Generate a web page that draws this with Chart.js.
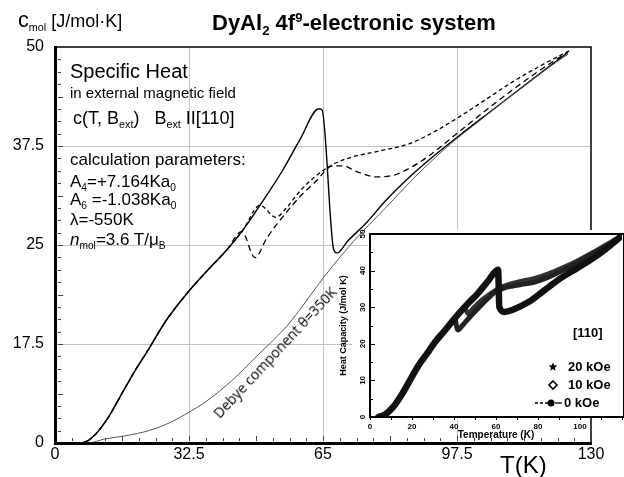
<!DOCTYPE html>
<html>
<head>
<meta charset="utf-8">
<title>DyAl2 specific heat</title>
<script src="https://cdn.jsdelivr.net/npm/chart.js@4.4.1/dist/chart.umd.min.js"></script>
<style>
  body { margin: 0; background: #fff; }
  #wrap { position: relative; width: 624px; height: 477px; overflow: hidden;
          font-family: "Liberation Sans", Arial, sans-serif; color: #000; }
  canvas { position: absolute; }
  #mainChart { left: 0; top: 0; }
  #insetChart { left: 336px; top: 222px; }
  .lbl { position: absolute; white-space: nowrap; line-height: 1; }
  .lbl sub { font-size: 0.6em; vertical-align: -0.35em; line-height: 0; }
  .lbl sup { font-size: 0.6em; vertical-align: 0.6em; line-height: 0; }
</style>
</head>
<body>
<div id="wrap">
  <canvas id="mainChart" width="624" height="477"></canvas>
  <canvas id="insetChart" width="288" height="220"></canvas>

  <div class="lbl" style="left:18px;top:9px;font-size:18px"><span style="font-size:1.2em">c</span><sub>mol</sub> [J/mol·K]</div>
  <div class="lbl" style="left:212px;top:12px;font-size:22px;font-weight:bold">DyAl<sub>2</sub> 4f<sup>9</sup>-electronic system</div>

  <div class="lbl" style="left:70px;top:61px;font-size:20px">Specific Heat</div>
  <div class="lbl" style="left:70px;top:85px;font-size:15px">in external magnetic field</div>
  <div class="lbl" style="left:73px;top:109px;font-size:18px">c(T, B<sub>ext</sub>)&nbsp;&nbsp; B<sub>ext</sub> II[110]</div>
  <div class="lbl" style="left:70px;top:151px;font-size:17px">calculation parameters:</div>
  <div class="lbl" style="left:70px;top:173px;font-size:17px">A<sub>4</sub>=+7.164Ka<sub>0</sub></div>
  <div class="lbl" style="left:70px;top:191px;font-size:17px">A<sub>6</sub> =-1.038Ka<sub>0</sub></div>
  <div class="lbl" style="left:70px;top:211px;font-size:17px">λ=-550K</div>
  <div class="lbl" style="left:70px;top:231px;font-size:17px"><i>n</i><sub>mol</sub>=3.6 T/μ<sub>B</sub></div>

  <div class="lbl" style="left:211px;top:411px;font-size:14px;font-family:'Open Sans',sans-serif;transform-origin:0 0;transform:rotate(-47deg)">Debye component θ=350K</div>

  <div class="lbl" style="left:500px;top:453px;font-size:24px">T(K)</div>
</div>

<script>
"use strict";

// ---- main chart: calculated c(T) in J/mol K, T in K ----
// B_ext = 0 (solid line, jump at ~64 K)
const tZero = [0, 6, 8, 10, 13, 16.5, 19.5, 22.3, 27, 32.5, 37, 41.7, 45.6, 49.7, 55.3, 59.4, 64, 64.8, 67.6, 68.4, 71, 75.7, 80, 86, 92, 98, 105, 111, 118, 124.4];
const cZero = [0, 0, 0.3, 1.2, 3.3, 6.5, 9.2, 11.5, 15.5, 19.2, 21.8, 24.4, 26.9, 30, 34.5, 38.3, 42.2, 42.0, 24.4, 24.0, 25.5, 27.9, 30.5, 33.6, 36.3, 38.8, 41.6, 44.0, 46.8, 49.3];

// field curve with dip near 48 K (long dashes)
const tFieldA = [0, 6, 8, 10, 13, 16.5, 19.5, 22.3, 27, 32.5, 37, 41.7, 45.3, 48.5, 51.4, 55, 59.4, 63, 67.5, 70, 73, 78, 82, 86, 90, 94, 98, 104, 111, 118, 124.4];
const cFieldA = [0, 0, 0.3, 1.2, 3.3, 6.5, 9.2, 11.5, 15.5, 19.2, 21.8, 24.4, 26.7, 23.4, 25.9, 28.4, 31.1, 32.9, 35.0, 35.0, 34.3, 33.6, 33.8, 34.7, 36.0, 37.6, 39.3, 41.8, 44.6, 47.2, 49.4];

// field curve with dip near 54 K (short dashes)
const tFieldB = [0, 6, 8, 10, 13, 16.5, 19.5, 22.3, 27, 32.5, 37, 41.7, 45.6, 49.7, 53.6, 56, 59.4, 63, 67.5, 72, 78, 86, 92, 97.5, 104, 111, 118, 125];
const cFieldB = [0, 0, 0.3, 1.2, 3.3, 6.5, 9.2, 11.5, 15.5, 19.2, 21.8, 24.4, 26.9, 30.0, 28.5, 29.6, 31.8, 33.6, 35.2, 36.1, 36.8, 37.8, 39.3, 41.0, 43.2, 45.6, 47.7, 49.6];

// Debye component, theta = 350 K
const tDebye = [0, 8, 12, 17, 23, 28, 32.5, 36, 39.3, 44, 48, 52, 56.3, 60.2, 65, 72.3, 80, 88.5, 96, 103, 110, 117, 124.4];
const cDebye = [0, 0, 0.5, 0.9, 1.6, 2.6, 3.9, 5.0, 6.3, 8.4, 10.5, 12.5, 14.8, 17.4, 20.8, 25.4, 29.6, 34.2, 37.8, 40.7, 43.6, 46.4, 49.1];

const xTickValues = [0, 32.5, 65, 97.5, 130];
const xTickText = ["0", "32.5", "65", "97.5", "130"];
const yTickValues = [0, 12.5, 25, 37.5, 50];
const yTickText = ["0", "17.5", "25", "37.5", "50"];

// ---- inset: measured heat capacity, B || [110] ----
const tMeas0 = [4, 7, 11, 15, 19, 23, 27.4, 31, 35, 39, 43, 47, 51.4, 56, 61, 61.6, 64, 68, 75.5, 83, 91, 99, 107, 114, 121];
const cMeas0 = [0, 0.6, 2.7, 6, 10, 14, 17.5, 20.5, 23.2, 26, 28.7, 31.2, 33.8, 37, 40.2, 30, 28.7, 29.3, 31.4, 34.6, 38, 40.8, 43.7, 46.7, 50];

const tMeas10 = [4, 7, 11, 15, 19, 23, 27.4, 31, 35, 39, 40.3, 41.8, 44, 48, 52, 56, 60, 64, 68, 72, 78, 84, 90, 96, 103, 110, 116, 121];
const cMeas10 = [0, 0.6, 2.7, 6, 10, 14, 17.5, 20.5, 23.2, 26, 26.8, 23.8, 25, 27.6, 30, 32.3, 34.3, 35.3, 35.8, 36.2, 36.8, 38, 39.6, 41.3, 43.6, 45.8, 47.8, 49.8];

const tMeas20 = [4, 7, 11, 15, 19, 23, 27.4, 31, 35, 39, 43, 45, 46.8, 49, 53, 57, 61, 65, 70, 76, 82, 88, 94, 100, 107, 114, 121];
const cMeas20 = [0, 0.6, 2.7, 6, 10, 14, 17.5, 20.5, 23.2, 26, 28.7, 29.8, 28.2, 29.6, 31.8, 33.5, 35, 36, 36.8, 37.5, 38.5, 39.8, 41.3, 43, 45.2, 47.5, 50];

const insetXLabels = [0, 20, 40, 60, 80, 100];
const insetYLabels = [0, 10, 20, 30, 40, 50];
const insetLegend = ["20 kOe", "10 kOe", "0 kOe"];

const FONT = "'Liberation Sans', Arial, sans-serif";

function pairs(xs, ys) {
  return xs.map((x, i) => ({ x: x, y: ys[i] }));
}

// frame + inward minor ticks for the main plot
const mainFrame = {
  id: "mainFrame",
  afterDraw(chart) {
    const { ctx, chartArea: a, scales: { x, y } } = chart;
    ctx.save();
    ctx.strokeStyle = "#000";
    ctx.lineWidth = 1.5;
    ctx.strokeRect(a.left, a.top, a.right - a.left, a.bottom - a.top);
    ctx.strokeStyle = "#444";
    ctx.lineWidth = 1;
    const xStep = (xTickValues[1] - xTickValues[0]) / 8;
    for (let i = 1; i < 32; i++) {
      const px = Math.round(x.getPixelForValue(i * xStep)) + 0.5;
      ctx.beginPath();
      ctx.moveTo(px, a.bottom - 2);
      ctx.lineTo(px, a.bottom - (i % 4 === 0 ? 7 : 5));
      ctx.stroke();
    }
    const yStep = (yTickValues[1] - yTickValues[0]) / 8;
    for (let i = 1; i < 32; i++) {
      const py = Math.round(y.getPixelForValue(i * yStep)) + 0.5;
      ctx.beginPath();
      ctx.moveTo(a.left + 3, py);
      ctx.lineTo(a.left + (i % 4 === 0 ? 8 : 6), py);
      ctx.stroke();
    }
    ctx.restore();
  }
};

new Chart(document.getElementById("mainChart"), {
  type: "line",
  data: {
    datasets: [
      { label: "Debye component", data: pairs(tDebye, cDebye), borderColor: "#555", borderWidth: 1 },
      { label: "B = 0", data: pairs(tZero, cZero), borderColor: "#000", borderWidth: 1.4 },
      { label: "field A", data: pairs(tFieldA, cFieldA), borderColor: "#000", borderWidth: 1.3, borderDash: [6, 4] },
      { label: "field B", data: pairs(tFieldB, cFieldB), borderColor: "#000", borderWidth: 1.3, borderDash: [4, 3] }
    ]
  },
  options: {
    responsive: false,
    animation: false,
    elements: {
      point: { radius: 0 },
      line: { cubicInterpolationMode: "monotone", fill: false }
    },
    layout: { padding: { top: 47, right: 33, left: 0, bottom: 0 } },
    plugins: { legend: { display: false }, tooltip: { enabled: false } },
    scales: {
      x: {
        type: "linear", min: 0, max: 130,
        afterFit: s => { s.height = 34; },
        afterBuildTicks: s => { s.ticks = xTickValues.map(v => ({ value: v })); },
        ticks: {
          callback: v => xTickText[xTickValues.indexOf(v)],
          font: { size: 16, family: FONT }, color: "#000",
          padding: 2, maxRotation: 0, autoSkip: false
        },
        grid: {
          color: c => (c.tick && c.tick.value > 0 && c.tick.value < 130) ? "#c4c4c4" : "rgba(0,0,0,0)",
          drawTicks: false, lineWidth: 1
        },
        border: { display: true, color: "#000", width: 3 }
      },
      y: {
        type: "linear", min: 0, max: 50,
        afterFit: s => { s.width = 55; },
        afterBuildTicks: s => { s.ticks = yTickValues.map(v => ({ value: v })); },
        ticks: {
          callback: v => yTickText[yTickValues.indexOf(v)],
          font: { size: 16, family: FONT }, color: "#000",
          padding: 11, autoSkip: false
        },
        grid: {
          color: c => (c.tick && c.tick.value > 0 && c.tick.value < 50) ? "#c4c4c4" : "rgba(0,0,0,0)",
          drawTicks: false, lineWidth: 1
        },
        border: { display: true, color: "#000", width: 3 }
      }
    }
  },
  plugins: [mainFrame]
});

// inset: white card, frame, inward y ticks and its own legend
function drawStar(ctx, cx, cy, r) {
  ctx.beginPath();
  for (let i = 0; i < 10; i++) {
    const rr = i % 2 === 0 ? r : r * 0.45;
    const ang = -Math.PI / 2 + i * Math.PI / 5;
    const px = cx + rr * Math.cos(ang), py = cy + rr * Math.sin(ang);
    if (i === 0) ctx.moveTo(px, py); else ctx.lineTo(px, py);
  }
  ctx.closePath();
  ctx.fill();
}

const insetDeco = {
  id: "insetDeco",
  beforeDraw(chart) {
    const { ctx, chartArea: a, width } = chart;
    ctx.save();
    ctx.fillStyle = "#fff";
    // plot card, and the label strip to its left (lower part only)
    ctx.fillRect(a.left - 2, a.top - 4, width - a.left + 2, a.bottom - a.top + 5);
    ctx.fillRect(16, a.top + 20, a.left - 14, a.bottom - a.top - 19);
    ctx.restore();
  },
  afterDraw(chart) {
    const { ctx, chartArea: a, scales: { y } } = chart;
    ctx.save();
    ctx.strokeStyle = "#000";
    ctx.lineWidth = 2;
    ctx.strokeRect(a.left, a.top, a.right - a.left + 2, a.bottom - a.top);
    ctx.lineWidth = 1;
    y.ticks.forEach(t => {
      const py = Math.round(y.getPixelForValue(t.value)) + 0.5;
      ctx.beginPath();
      ctx.moveTo(a.left, py);
      ctx.lineTo(a.left + (t.value % 10 === 0 ? 5 : 3), py);
      ctx.stroke();
    });

    // legend
    const lx = a.left + 183;
    const rows = [a.top + 133, a.top + 151, a.top + 169];
    ctx.fillStyle = "#000";
    ctx.font = "bold 13px " + FONT;
    ctx.textBaseline = "middle";
    ctx.textAlign = "left";
    ctx.fillText("[110]", a.left + 203, a.top + 99);

    drawStar(ctx, lx, rows[0], 4.5);
    ctx.fillText(insetLegend[0], lx + 15, rows[0]);

    ctx.lineWidth = 1.6;
    ctx.beginPath();
    ctx.moveTo(lx, rows[1] - 4);
    ctx.lineTo(lx + 4, rows[1]);
    ctx.lineTo(lx, rows[1] + 4);
    ctx.lineTo(lx - 4, rows[1]);
    ctx.closePath();
    ctx.stroke();
    ctx.fillText(insetLegend[1], lx + 15, rows[1]);

    ctx.lineWidth = 1.3;
    ctx.setLineDash([3, 2]);
    ctx.beginPath();
    ctx.moveTo(lx - 18, rows[2]);
    ctx.lineTo(lx - 5, rows[2]);
    ctx.stroke();
    ctx.setLineDash([]);
    ctx.beginPath();
    ctx.moveTo(lx + 2, rows[2]);
    ctx.lineTo(lx + 9, rows[2]);
    ctx.stroke();
    ctx.beginPath();
    ctx.arc(lx - 2, rows[2], 3.5, 0, Math.PI * 2);
    ctx.fill();
    ctx.fillText(insetLegend[2], lx + 11, rows[2]);
    ctx.restore();
  }
};

new Chart(document.getElementById("insetChart"), {
  type: "line",
  data: {
    datasets: [
      { label: "0 kOe", data: pairs(tMeas0, cMeas0), borderColor: "#111", borderWidth: 6.5 },
      { label: "10 kOe", data: pairs(tMeas10, cMeas10), borderColor: "#222", borderWidth: 5 },
      { label: "20 kOe", data: pairs(tMeas20, cMeas20), borderColor: "#333", borderWidth: 5 }
    ]
  },
  options: {
    responsive: false,
    animation: false,
    elements: {
      point: { radius: 0 },
      line: { cubicInterpolationMode: "monotone", fill: false, borderCapStyle: "round", borderJoinStyle: "round" }
    },
    layout: { padding: { top: 12, right: 0, left: 0, bottom: 0 } },
    plugins: { legend: { display: false }, tooltip: { enabled: false } },
    scales: {
      x: {
        type: "linear", min: 0, max: 120,
        afterFit: s => { s.height = 25; },
        ticks: {
          stepSize: 10,
          callback: v => insetXLabels.includes(v) ? String(v) : "",
          font: { size: 8, weight: "bold", family: FONT }, color: "#000",
          padding: 2, maxRotation: 0, autoSkip: false
        },
        grid: { drawOnChartArea: false, drawTicks: true, tickLength: 3, color: "#000" },
        border: { display: true, color: "#000", width: 2 },
        title: {
          display: true, text: "Temperature (K)", color: "#000",
          font: { size: 10, weight: "bold", family: FONT }, padding: { top: 0, bottom: 1 }
        }
      },
      y: {
        type: "linear", min: 0, max: 50,
        afterFit: s => { s.width = 34; },
        ticks: {
          stepSize: 5,
          callback: v => insetYLabels.includes(v) ? String(v) : "",
          minRotation: 90, maxRotation: 90, crossAlign: "center",
          font: { size: 8, weight: "bold", family: FONT }, color: "#000",
          padding: 3, autoSkip: false
        },
        grid: { drawOnChartArea: false, drawTicks: false },
        border: { display: true, color: "#000", width: 2 },
        title: {
          display: true, text: "Heat Capacity (J/mol K)", color: "#000",
          font: { size: 9, weight: "bold", family: FONT }, padding: { top: 2, bottom: 0 }
        }
      }
    }
  },
  plugins: [insetDeco]
});
</script>
</body>
</html>
